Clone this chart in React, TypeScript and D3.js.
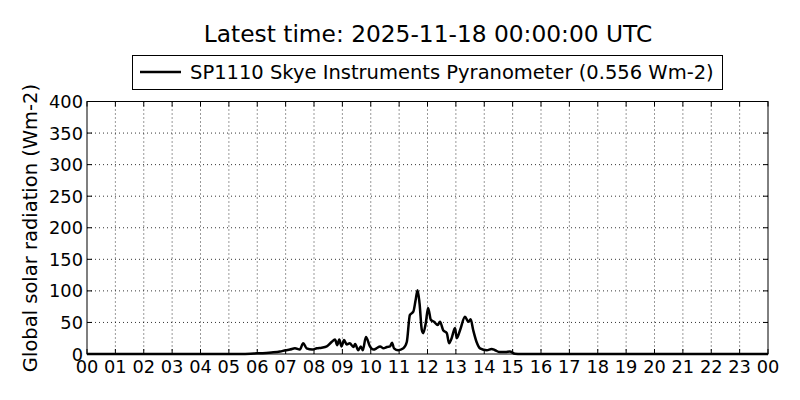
import React, { useEffect, useRef } from "react";
import * as d3 from "d3";

const titleText = "Latest time: 2025-11-18 00:00:00 UTC";
const seriesName = "SP1110 Skye Instruments Pyranometer (0.556 Wm-2)";
const yLabel = "Global solar radiation (Wm-2)";

const hours = [
  0, 3, 5.5, 6.0, 6.5, 6.8, 7.0, 7.15, 7.33, 7.5, 7.62, 7.74, 7.94, 8.1, 8.27, 8.45,
  8.62, 8.74, 8.82, 8.89, 8.97, 9.06, 9.15, 9.26, 9.39, 9.45, 9.56, 9.65, 9.72, 9.83,
  9.97, 10.1, 10.2, 10.33, 10.45, 10.57, 10.68, 10.75, 10.82, 10.97, 11.15, 11.27,
  11.38, 11.5, 11.58, 11.65, 11.72, 11.8, 11.85, 11.94, 12.02, 12.12, 12.23, 12.36,
  12.44, 12.55, 12.68, 12.76, 12.85, 12.97, 13.03, 13.15, 13.32, 13.44, 13.52, 13.61,
  13.73, 13.85, 14.09, 14.26, 14.38, 14.55, 14.75, 14.9, 15.08, 15.3, 18, 24,
];
const values = [
  0, 0, 0, 1, 2.5, 4, 6, 7, 9, 7, 17, 9, 7, 9, 10, 12,
  19, 23, 14, 23, 12, 22, 15, 17, 11, 16, 6, 12, 6, 27,
  12, 7, 9, 12, 9, 11, 12, 18, 9, 6, 9, 19,
  62, 67, 85, 101, 80, 38, 33, 49, 73, 54, 51, 46,
  51, 38, 33, 17, 25, 41, 25, 38, 59, 51, 55, 38,
  19, 9, 6, 8, 6, 3, 3, 4, 0.5, 0, 0, 0,
];
const yTicks = [0, 50, 100, 150, 200, 250, 300, 350, 400];
const xTicks = d3.range(0, 25);
const xTickLabels = xTicks.map((h) => String(h % 24).padStart(2, "0"));

export default function App() {
  const ref = useRef<SVGSVGElement>(null);
  useEffect(() => {
    const svg = d3.select(ref.current);
    svg.selectAll("*").remove();
    const W = 800, H = 400;
    const m = { left: 87, right: 768, top: 101.5, bottom: 354 };
    const x = d3.scaleLinear().domain([0, 24]).range([m.left, m.right]);
    const y = d3.scaleLinear().domain([0, 400]).range([m.bottom, m.top]);
    const font = "'DejaVu Sans', sans-serif";
    const fs = 19.5;
    const tfs = 17.8;

    svg.append("rect").attr("width", W).attr("height", H).attr("fill", "white");

    const g = svg.append("g");
    // grid
    g.selectAll(".vg").data(xTicks.slice(1, -1)).join("line")
      .attr("x1", (d) => x(d)).attr("x2", (d) => x(d))
      .attr("y1", m.top).attr("y2", m.bottom)
      .attr("stroke", "black").attr("stroke-width", 0.8).attr("stroke-dasharray", "1,3");
    g.selectAll(".hg").data(yTicks.slice(1, -1)).join("line")
      .attr("x1", m.left).attr("x2", m.right)
      .attr("y1", (d) => y(d)).attr("y2", (d) => y(d))
      .attr("stroke", "black").attr("stroke-width", 0.8).attr("stroke-dasharray", "1,3");

    // ticks inward on all sides
    const tl = 5;
    xTicks.forEach((d) => {
      g.append("line").attr("x1", x(d)).attr("x2", x(d)).attr("y1", m.bottom).attr("y2", m.bottom - tl).attr("stroke", "black");
      g.append("line").attr("x1", x(d)).attr("x2", x(d)).attr("y1", m.top).attr("y2", m.top + tl).attr("stroke", "black");
    });
    yTicks.forEach((d) => {
      g.append("line").attr("x1", m.left).attr("x2", m.left + tl).attr("y1", y(d)).attr("y2", y(d)).attr("stroke", "black");
      g.append("line").attr("x1", m.right).attr("x2", m.right - tl).attr("y1", y(d)).attr("y2", y(d)).attr("stroke", "black");
    });

    // data line
    const pts = hours.map((h, i) => [h, values[i]] as [number, number]);
    const line = d3.line<[number, number]>().x((d) => x(d[0])).y((d) => y(d[1])).curve(d3.curveMonotoneX);
    g.append("path").attr("d", line(pts)!).attr("fill", "none").attr("stroke", "black")
      .attr("stroke-width", 2.5).attr("stroke-linejoin", "round");

    // frame
    g.append("rect").attr("x", m.left).attr("y", m.top).attr("width", m.right - m.left)
      .attr("height", m.bottom - m.top).attr("fill", "none").attr("stroke", "black").attr("stroke-width", 1);

    // tick labels
    g.selectAll(".xl").data(xTicks).join("text")
      .attr("x", (d) => x(d)).attr("y", 373).attr("text-anchor", "middle")
      .attr("font-family", font).attr("font-size", tfs).text((d, i) => xTickLabels[i]);
    g.selectAll(".yl").data(yTicks).join("text")
      .attr("x", 83).attr("y", (d) => y(d) + 6.5).attr("text-anchor", "end")
      .attr("font-family", font).attr("font-size", tfs).text((d) => String(d));

    // y label
    svg.append("text").attr("transform", `translate(37,228) rotate(-90)`)
      .attr("text-anchor", "middle").attr("font-family", font).attr("font-size", fs).text(yLabel);

    // title
    svg.append("text").attr("x", 428).attr("y", 42).attr("text-anchor", "middle")
      .attr("font-family", font).attr("font-size", 23.3).text(titleText);

    // legend
    svg.append("rect").attr("x", 132.5).attr("y", 55.5).attr("width", 590).attr("height", 34)
      .attr("fill", "white").attr("stroke", "black").attr("stroke-width", 1);
    svg.append("line").attr("x1", 140).attr("x2", 181).attr("y1", 72).attr("y2", 72)
      .attr("stroke", "black").attr("stroke-width", 2.5);
    svg.append("text").attr("x", 190).attr("y", 79).attr("font-family", font).attr("font-size", fs)
      .text(seriesName);
  }, []);
  return <svg ref={ref} width={800} height={400} style={{ position: "absolute", left: 0, top: 0 }} />;
}
